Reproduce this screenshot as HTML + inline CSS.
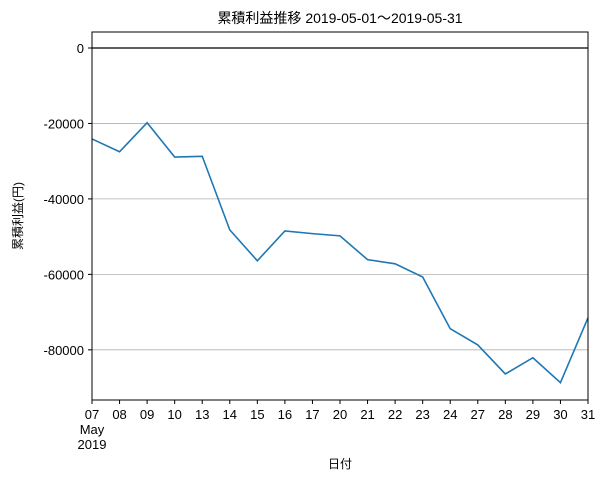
<!DOCTYPE html>
<html><head><meta charset="utf-8"><style>
body{margin:0;background:#fff;}
svg text{font-family:"Liberation Sans","Noto Sans CJK JP",sans-serif;fill:#000;}
</style></head><body>
<svg width="606" height="482" xmlns="http://www.w3.org/2000/svg">
<text x="340" y="23" font-size="14" text-anchor="middle">累積利益推移  2019-05-01～2019-05-31</text>
<g id="grid"></g>
<g id="ticks"></g>
<polyline id="line" fill="none" stroke="#1f77b4" stroke-width="1.6"/>
<rect x="92" y="32" width="496" height="368" fill="none" stroke="#000" stroke-width="1"/>
<text x="92" y="434" font-size="13" text-anchor="middle">May</text>
<text x="92" y="449" font-size="13" text-anchor="middle">2019</text>
<text x="340" y="468" font-size="12" text-anchor="middle">日付</text>
<text transform="translate(22,216) rotate(-90)" font-size="12" text-anchor="middle">累積利益(円)</text>
</svg>
<script>
const categories=["07","08","09","10","13","14","15","16","17","20","21","22","23","24","27","28","29","30","31"];
const values=[-24100,-27500,-19800,-28900,-28700,-48200,-56400,-48500,-49200,-49800,-56100,-57200,-60700,-74400,-78700,-86400,-82100,-88700,-71500];
const yTicks=[0,-20000,-40000,-60000,-80000];
const NS="http://www.w3.org/2000/svg";
const x0=92,x1=588,yTop=32,yBot=400,vTop=4240,vBot=-93300;
const xs=i=>x0+i*(x1-x0)/(categories.length-1);
const ys=v=>yTop+(vTop-v)/(vTop-vBot)*(yBot-yTop);
const grid=document.getElementById('grid'),ticks=document.getElementById('ticks');
yTicks.forEach(t=>{
  const y=ys(t);
  const l=document.createElementNS(NS,'line');
  l.setAttribute('x1',x0);l.setAttribute('x2',x1);l.setAttribute('y1',y);l.setAttribute('y2',y);
  l.setAttribute('stroke',t===0?'#000':'#b0b0b0');l.setAttribute('stroke-width',t===0?1.3:0.8);
  
  
  grid.appendChild(l);
  const tk=document.createElementNS(NS,'line');
  tk.setAttribute('x1',x0-4);tk.setAttribute('x2',x0);tk.setAttribute('y1',y);tk.setAttribute('y2',y);tk.setAttribute('stroke','#000');
  
  
  ticks.appendChild(tk);
  const tx=document.createElementNS(NS,'text');
  tx.setAttribute('x',x0-8);tx.setAttribute('y',y+5);tx.setAttribute('font-size','13');tx.setAttribute('text-anchor','end');
  tx.textContent=t;
  
  
  ticks.appendChild(tx);
});
categories.forEach((c,i)=>{
  const x=xs(i);
  const tk=document.createElementNS(NS,'line');
  tk.setAttribute('x1',x);tk.setAttribute('x2',x);tk.setAttribute('y1',yBot);tk.setAttribute('y2',yBot+4);tk.setAttribute('stroke','#000');
  
  
  ticks.appendChild(tk);
  const tx=document.createElementNS(NS,'text');
  tx.setAttribute('x',x);tx.setAttribute('y',yBot+19);tx.setAttribute('font-size','13');tx.setAttribute('text-anchor','middle');
  tx.textContent=c;
  
  
  ticks.appendChild(tx);
});
document.getElementById('line').setAttribute('points',values.map((v,i)=>xs(i)+','+ys(v)).join(' '));
</script>
</body></html>
